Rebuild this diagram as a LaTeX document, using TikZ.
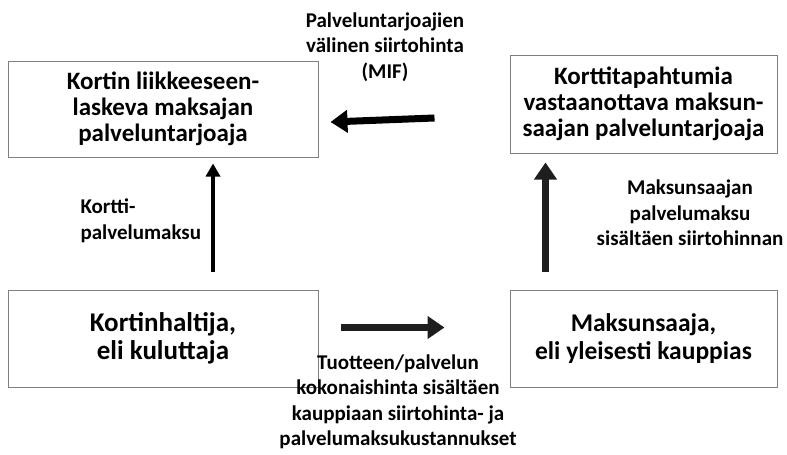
\documentclass[tikz,border=0pt]{standalone}
\usepackage{fontspec}
\setmainfont{Carlito}
\usetikzlibrary{arrows.meta}
\definecolor{boxline}{HTML}{7F7F7F}
\definecolor{arrowdark}{HTML}{1E1E1E}

\begin{document}
\begin{tikzpicture}[x=1pt, y=-1pt,
        party/.style={draw=boxline, line width=1pt, minimum width=310pt, align=center},
        flowtext/.style={align=center, font=\bfseries\fontsize{21}{25.5}\selectfont},
        bigarrow/.style={line width=7pt, -{Triangle[width=22pt,length=17pt]}},
        smallarrow/.style={line width=4pt, -{Triangle[width=14pt,length=13pt]}}]
            \useasboundingbox (0,0) rectangle (787,455);

            % Parties
            \node[party, minimum height=96pt, font=\bfseries\fontsize{25}{26}\selectfont] (liik) at (163,109)
                {Kortin liikkeeseen-\\laskeva maksajan\\palveluntarjoaja};
            \node[party, minimum width=267pt, minimum height=98pt, font=\bfseries\fontsize{25}{26}\selectfont] (vastaan) at (643.5,104)
                {Korttitapahtumia\\vastaanottava maksun-\\saajan palveluntarjoaja};
            \node[party, minimum height=97pt, font=\bfseries\fontsize{27}{28}\selectfont] (haltija) at (163,338.5)
                {Kortinhaltija,\\eli kuluttaja};
            \node[party, minimum width=267pt, minimum height=97pt, font=\bfseries\fontsize{25.5}{28}\selectfont] (kauppias) at (643.5,338.5)
                {Maksunsaaja,\\eli yleisesti kauppias};

            % Flows
            \draw[bigarrow] ([shift={(-75,14)}]vastaan.west) -- ([shift={(12,13)}]liik.east);
            \draw[smallarrow] ([shift={(50,-18)}]haltija.north) -- ([shift={(50,6)}]liik.south);
            \draw[bigarrow, arrowdark] ([shift={(-98,-18)}]kauppias.north) -- ([shift={(-98,9)}]vastaan.south);
            \draw[bigarrow, arrowdark] ([shift={(22,-11)}]haltija.east) -- ([shift={(-65,-11)}]kauppias.west);

            % Flow labels
            \node[flowtext] (mif) at (385,47) {Palveluntarjoajien\\välinen siirtohinta\\(MIF)};
            \node[flowtext, align=left, anchor=west] (korttimaksu) at (77,221) {Kortti-\\palvelumaksu};
            \node[flowtext] (saajamaksu) at (690,213) {Maksunsaajan\\palvelumaksu\\sisältäen siirtohinnan};
            \node[flowtext] (hinta) at (398,402) {Tuotteen/palvelun\\kokonaishinta sisältäen\\kauppiaan siirtohinta- ja\\palvelumaksukustannukset};
        \end{tikzpicture}
\end{document}
